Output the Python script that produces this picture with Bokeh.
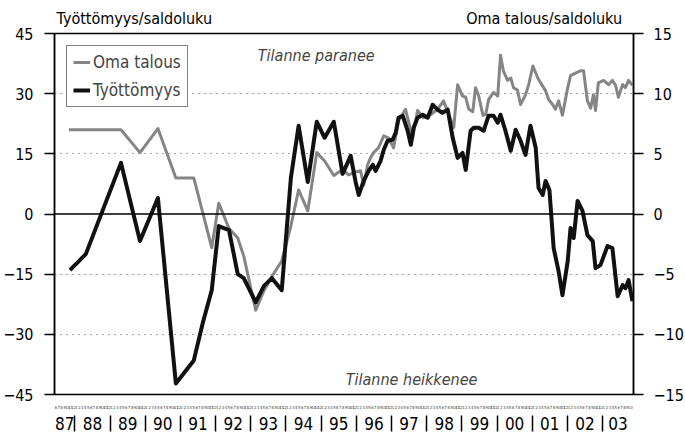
from bokeh.plotting import figure
from bokeh.models import (LinearAxis, Range1d, FixedTicker, Span, Label, Legend,
                          LegendItem, Grid, CustomJSTickFormatter)
from bokeh.embed import file_html
from bokeh.resources import INLINE

FONT = "'DejaVu Sans Condensed', Roboto, sans-serif"

# Työttömyys (left axis, saldoluku) -- decimal years
tyo_x = [1987.86, 1988.31, 1989.31, 1989.85, 1990.36, 1990.87, 1991.38, 1991.64, 1991.89,
         1992.09, 1992.38, 1992.63, 1992.80, 1993.14, 1993.37, 1993.60, 1993.88, 1994.14,
         1994.36, 1994.62, 1994.875, 1995.10, 1995.36, 1995.61, 1995.84, 1995.98, 1996.07,
         1996.21, 1996.35, 1996.47, 1996.55, 1996.69, 1996.78, 1996.89, 1997.03, 1997.12,
         1997.20, 1997.32, 1997.46, 1997.55, 1997.63, 1997.74, 1997.89, 1998.03, 1998.17,
         1998.31, 1998.45, 1998.60, 1998.74, 1998.88, 1999.02, 1999.11, 1999.25, 1999.34,
         1999.48, 1999.62, 1999.76, 1999.90, 2000.02, 2000.10, 2000.24, 2000.39, 2000.53,
         2000.67, 2000.81, 2000.95, 2001.10, 2001.18, 2001.30, 2001.38, 2001.49, 2001.61,
         2001.75, 2001.86, 2002.01, 2002.09, 2002.18, 2002.29, 2002.43, 2002.57, 2002.72,
         2002.80, 2002.94, 2003.14, 2003.28, 2003.43, 2003.57, 2003.65, 2003.74, 2003.85]
tyo_y = [-14, -10, 12.75, -6.75, 4, -42.25, -36.5, -27, -19,
         -3, -4, -15, -16, -22, -18, -16, -19, 9,
         22, 8, 23, 19, 23, 10, 14.5, 8, 4.75,
         8.25, 10.75, 12.25, 10.75, 13.25, 16, 18.25, 18.5, 20.25,
         24, 24.5, 20.75, 17.25, 21.5, 24, 24.75, 24, 27.25,
         26, 25.25, 26, 19, 14, 15.25, 11, 20.75, 21.5,
         21.5, 20.75, 24.5, 24.5, 22.75, 24.75, 20.75, 15.75, 21,
         18.25, 14.75, 22, 16.5, 6.5, 4.75, 8.25, 6, -8.5,
         -14.25, -20.25, -11.75, -3.5, -6, 3.25, 0.75, -5.25, -6.75,
         -13.5, -12.75, -8, -8.5, -20.5, -17.75, -18.5, -16.5, -21.75]

# Oma talous (right axis, saldoluku) -- decimal years
oma_x = [1987.83, 1988.31, 1989.31, 1989.85, 1990.36, 1990.87, 1991.38, 1991.89, 1992.09,
         1992.38, 1992.63, 1992.80, 1993.14, 1993.37, 1993.60, 1993.88, 1994.14, 1994.36,
         1994.62, 1994.875, 1995.10, 1995.36, 1995.61, 1995.78, 1995.98, 1996.12, 1996.21,
         1996.32, 1996.41, 1996.49, 1996.63, 1996.78, 1996.92, 1997.06, 1997.20, 1997.40,
         1997.60, 1997.74, 1997.91, 1998.11, 1998.31, 1998.48, 1998.63, 1998.77, 1998.88,
         1999.02, 1999.11, 1999.20, 1999.31, 1999.39, 1999.48, 1999.60, 1999.68, 1999.76,
         1999.90, 2000.02, 2000.10, 2000.18, 2000.30, 2000.39, 2000.47, 2000.58, 2000.67,
         2000.81, 2000.90, 2001.02, 2001.16, 2001.24, 2001.38, 2001.47, 2001.58, 2001.66,
         2001.75, 2001.86, 2002.01, 2002.09, 2002.23, 2002.37, 2002.46, 2002.57, 2002.66,
         2002.74, 2002.80, 2002.88, 2003.03, 2003.17, 2003.28, 2003.37, 2003.45, 2003.57,
         2003.65, 2003.74, 2003.85]
oma_y = [7, 7, 7, 5.1, 7.1, 3, 3, -2.8, 0.9,
         -1.2, -2, -3.5, -8, -6.4, -5.2, -3.9, -1, 2,
         0.25, 5.1, 4.4, 3.2, 3.7, 3.25, 3.5, 3.6, 2.4,
         4.1, 4.7, 5.1, 5.5, 6.5, 6.3, 5.5, 7.75, 8.7,
         6.3, 8.6, 8, 8.25, 8.7, 9.4, 8.25, 7.2, 10.75,
         9.8, 9.7, 8.7, 8.5, 10.5, 9.8, 8.2, 8.3, 9.5,
         10.1, 9.8, 13.2, 11.9, 11.1, 11.3, 10.5, 10.3, 9.1,
         9.9, 10.75, 12.3, 11.3, 10.9, 10.25, 9.5, 9.1, 8.7,
         9.4, 8.2, 10.5, 11.5, 11.7, 11.9, 11.9, 9.4, 8.8,
         9.9, 8.6, 10.9, 11.1, 10.75, 11.1, 10.7, 9.7, 10.75,
         10.5, 11.1, 10.7]

left_ticks = [-45, -30, -15, 0, 15, 30, 45]
right_ticks = [-15, -10, -5, 0, 5, 10, 15]
grid_lines = [-30, -15, 15, 30]
years = list(range(1987, 2004))
first_month_1987 = 6
last_month_2003 = 10
left_title = "Työttömyys/saldoluku"
right_title = "Oma talous/saldoluku"
series_names = ["Oma talous", "Työttömyys"]

X0, X1 = 1987.42, 2003.88

p = figure(frame_width=579, frame_height=361, x_range=Range1d(X0, X1), y_range=Range1d(-45, 45),
           output_backend="svg", toolbar_location=None,
           x_axis_location=None, y_axis_location=None,
           min_border_left=46, min_border_right=44, min_border_top=33, min_border_bottom=23)
p.extra_y_ranges = {"right": Range1d(-15, 15)}
p.grid.visible = False
p.outline_line_color = "black"
p.outline_line_width = 1.5
p.background_fill_color = "white"
p.border_fill_color = "white"

# grid
g = Grid(dimension=1, ticker=FixedTicker(ticks=grid_lines), grid_line_color="#444444",
         grid_line_dash="1 5", grid_line_width=1.2)
p.add_layout(g)
p.add_layout(Span(location=0, dimension="width", line_color="black", line_width=1.5))

def style_y(ax):
    ax.axis_line_color = "black"
    ax.axis_line_width = 1.5
    ax.major_tick_line_color = "black"
    ax.major_tick_line_width = 1.5
    ax.major_tick_out = 10
    ax.major_tick_in = 0
    ax.minor_tick_line_color = None
    ax.minor_tick_out = 0
    ax.major_label_text_font = FONT
    ax.major_label_text_font_size = "16px"
    ax.major_label_text_color = "black"

ly = LinearAxis(ticker=FixedTicker(ticks=left_ticks))
style_y(ly)
ly.major_label_standoff = 11
p.add_layout(ly, "left")

ry = LinearAxis(y_range_name="right", ticker=FixedTicker(ticks=right_ticks))
style_y(ry)
ry.major_label_standoff = 10
p.add_layout(ry, "right")

# titles above the frame (as labels of an invisible top axis)
title_pos = [1989.69, 2001.34]
tx = LinearAxis(ticker=FixedTicker(ticks=title_pos, minor_ticks=[]),
                major_label_overrides={title_pos[0]: left_title, title_pos[1]: right_title})
tx.axis_line_color = None
tx.major_tick_line_color = None
tx.minor_tick_line_color = None
tx.major_tick_out = 0
tx.major_tick_in = 0
tx.minor_tick_out = 0
tx.major_label_standoff = 6
tx.major_label_text_font = FONT
tx.major_label_text_font_size = "16px"
tx.major_label_text_color = "black"
p.add_layout(tx, "above")

# month row
month_ticks = []
for yr in years:
    m0 = first_month_1987 if yr == 1987 else 1
    m1 = last_month_2003 if yr == 2003 else 12
    for m in range(m0, m1 + 1):
        month_ticks.append(yr + (m - 0.5) / 12)
mx = LinearAxis(ticker=FixedTicker(ticks=month_ticks, minor_ticks=[]),
                formatter=CustomJSTickFormatter(code="""
                    const f = tick - Math.floor(tick);
                    return String(Math.round(f * 12 + 0.5));
                """))
mx.axis_line_color = None
mx.major_tick_line_color = None
mx.minor_tick_line_color = None
mx.major_tick_out = 0
mx.major_tick_in = 0
mx.minor_tick_out = 0
mx.major_label_standoff = 11
mx.major_label_text_font = FONT
mx.major_label_text_font_size = "4px"
mx.major_label_text_color = "#333333"
p.add_layout(mx, "below")

# year row with separators
year_centers = [(max(X0, y) + min(X1, y + 1)) / 2 for y in years]
yx = LinearAxis(ticker=FixedTicker(ticks=year_centers, minor_ticks=years[1:]),
                formatter=CustomJSTickFormatter(code="""
                    const y = Math.floor(tick) % 100;
                    return (y < 10 ? '0' : '') + String(y);
                """))
yx.axis_line_color = None
yx.major_tick_line_color = None
yx.major_tick_out = 0
yx.major_tick_in = 0
yx.minor_tick_line_color = "black"
yx.minor_tick_line_width = 1.5
yx.minor_tick_out = 20
yx.minor_tick_in = -4
yx.major_label_standoff = -15
yx.major_label_text_font = FONT
yx.major_label_text_font_size = "17px"
yx.major_label_text_color = "black"
p.add_layout(yx, "below")

r_oma = p.line(oma_x, oma_y, y_range_name="right", line_color="#858585", line_width=3,
               line_join="round")
r_tyo = p.line(tyo_x, tyo_y, line_color="#111111", line_width=4, line_join="round")

legend = Legend(items=[LegendItem(label=series_names[0], renderers=[r_oma]),
                       LegendItem(label=series_names[1], renderers=[r_tyo])],
                location="top_left", margin=12, padding=6, spacing=8,
                border_line_color="black", border_line_width=1.2,
                label_text_font=FONT, label_text_font_size="17px",
                glyph_width=17, label_standoff=3, background_fill_alpha=1)
p.add_layout(legend)

p.add_layout(Label(x=1993.2, y=39.5, text="Tilanne paranee", text_font=FONT,
                   text_font_size="16px", text_font_style="italic",
                   text_baseline="middle", text_align="left"))
p.add_layout(Label(x=1995.7, y=-41.3, text="Tilanne heikkenee", text_font=FONT,
                   text_font_size="16px", text_font_style="italic",
                   text_baseline="middle", text_align="left"))

open("out.html", "w").write(file_html(p, INLINE))
